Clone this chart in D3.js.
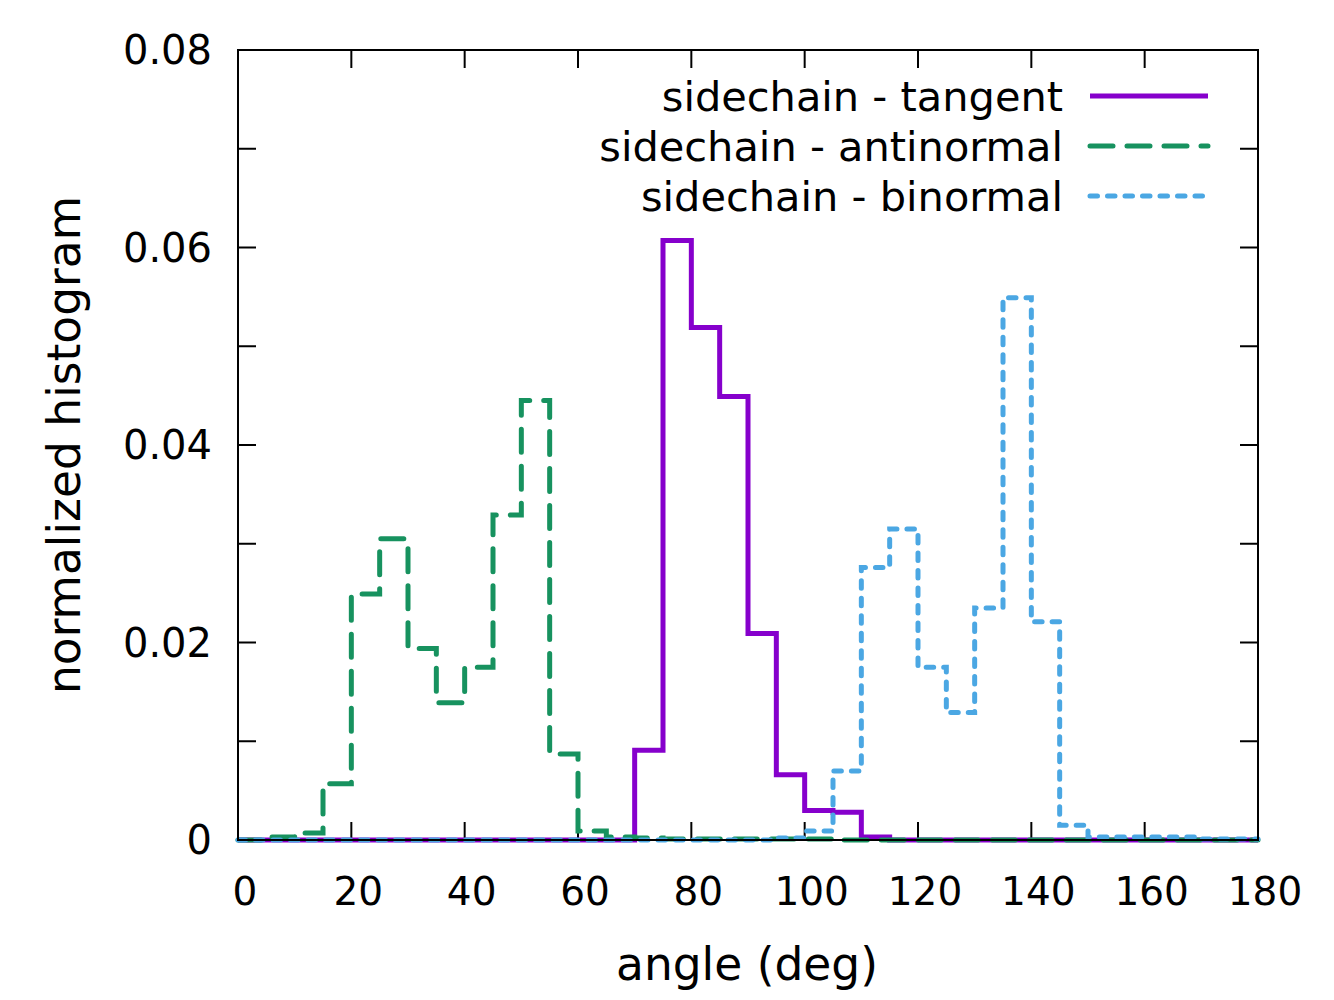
<!DOCTYPE html>
<meta charset="utf-8">

<style>
body { margin: 0; background: #fff; }
text { font-family: "DejaVu Sans", sans-serif; fill: #000; }
.frame { fill: none; stroke: #000; stroke-width: 2px; }
.tick { stroke: #000; stroke-width: 2px; }
.series { fill: none; stroke-width: 5px; stroke-linejoin: miter; }
</style>

<svg width="1334" height="1000"></svg>

<script src="https://d3js.org/d3.v7.min.js"></script>

<script>

// bin start angles (deg), each bin 5 deg wide
var bins = [0, 5, 10, 15, 20, 25, 30, 35, 40, 45, 50, 55, 60, 65, 70, 75, 80, 85,
            90, 95, 100, 105, 110, 115, 120, 125, 130, 135, 140, 145, 150, 155, 160, 165, 170, 175];
var binEnd = 180;

var tangent = [0, 0, 0, 0, 0, 0, 0, 0, 0, 0, 0, 0, 0, 0, 0.0091, 0.0607, 0.0519, 0.0449,
               0.0209, 0.0066, 0.0030, 0.0028, 0.0003, 0, 0, 0, 0, 0, 0, 0, 0, 0, 0, 0, 0, 0];
var antinormal = [0, 0.0003, 0.0007, 0.0057, 0.0249, 0.0305, 0.0194, 0.0139, 0.0175, 0.0329, 0.0445, 0.0087,
                  0.0009, 0.0003, 0.0002, 0.0001, 0.0001, 0.0001, 0.0001, 0.0001, 0.0001, 0, 0, 0,
                  0, 0, 0, 0, 0, 0, 0, 0, 0, 0, 0, 0];
var binormal = [0, 0, 0, 0, 0, 0, 0, 0, 0, 0, 0, 0, 0, 0, 0, 0, 0, 0,
                0, 0.0002, 0.0009, 0.0070, 0.0276, 0.0315, 0.0175, 0.0129, 0.0235, 0.0549, 0.0221, 0.0015, 0.0003, 0.0003,
                0.0003, 0.0003, 0.0001, 0.0001];

var seriesNames = ["sidechain - tangent", "sidechain - antinormal", "sidechain - binormal"];
var seriesColors = ["#8600cc", "#17925f", "#4ba7e3"];
var seriesDash = [null, "23,14", "7.5,10"];
var seriesCap = ["butt", "round", "round"];

var xTicks = [0, 20, 40, 60, 80, 100, 120, 140, 160, 180];
var yTicks = [0, 0.01, 0.02, 0.03, 0.04, 0.05, 0.06, 0.07, 0.08];
var yLabels = {0: "0", 0.02: "0.02", 0.04: "0.04", 0.06: "0.06", 0.08: "0.08"};

var svg = d3.select("svg");
var m = {left: 238, right: 1258, top: 50, bottom: 840};

var x = d3.scaleLinear().domain([0, 180]).range([m.left, m.right]);
var y = d3.scaleLinear().domain([0, 0.08]).range([m.bottom, m.top]);

var tickLen = 18;
var gt = svg.append("g");

// x ticks bottom and top, pointing inward
xTicks.forEach(function(t) {
  gt.append("line").attr("class", "tick")
    .attr("x1", x(t)).attr("x2", x(t)).attr("y1", m.bottom).attr("y2", m.bottom - tickLen);
  gt.append("line").attr("class", "tick")
    .attr("x1", x(t)).attr("x2", x(t)).attr("y1", m.top).attr("y2", m.top + tickLen);
  gt.append("text").attr("x", x(t) + 7).attr("y", m.bottom + 65)
    .attr("text-anchor", "middle").style("font-size", "39px").text(t);
});

yTicks.forEach(function(t) {
  gt.append("line").attr("class", "tick")
    .attr("x1", m.left).attr("x2", m.left + tickLen).attr("y1", y(t)).attr("y2", y(t));
  gt.append("line").attr("class", "tick")
    .attr("x1", m.right).attr("x2", m.right - tickLen).attr("y1", y(t)).attr("y2", y(t));
  if (yLabels[t] !== undefined) {
    gt.append("text").attr("x", m.left - 26).attr("y", y(t) + 14)
      .attr("text-anchor", "end").style("font-size", "40px").text(yLabels[t]);
  }
});

// histogram steps
var line = d3.line()
  .x(function(d) { return x(d[0]); })
  .y(function(d) { return y(d[1]); })
  .curve(d3.curveStepAfter);

function stepPoints(vals) {
  var pts = bins.map(function(b, i) { return [b, vals[i]]; });
  pts.push([binEnd, vals[vals.length - 1]]);
  return pts;
}

var allSeries = [tangent, antinormal, binormal];
allSeries.forEach(function(vals, i) {
  svg.append("path").attr("class", "series")
    .attr("d", line(stepPoints(vals)))
    .attr("stroke", seriesColors[i])
    .attr("stroke-dasharray", seriesDash[i])
    .attr("stroke-linecap", seriesCap[i]);
});

svg.append("rect").attr("class", "frame")
  .attr("x", m.left).attr("y", m.top)
  .attr("width", m.right - m.left).attr("height", m.bottom - m.top);

// legend
var lg = svg.append("g");
seriesNames.forEach(function(name, i) {
  var ly = 96 + i * 50;
  lg.append("text").attr("x", 1063).attr("y", ly + 15)
    .attr("text-anchor", "end").style("font-size", "41.5px").text(name);
  lg.append("line")
    .attr("x1", 1090).attr("x2", 1208).attr("y1", ly).attr("y2", ly)
    .attr("stroke", seriesColors[i]).attr("stroke-width", 5)
    .attr("stroke-dasharray", seriesDash[i])
    .attr("stroke-linecap", seriesCap[i]);
});

// axis titles
svg.append("text").attr("x", 747).attr("y", 980)
  .attr("text-anchor", "middle").style("font-size", "45.5px").text("angle (deg)");
svg.append("text")
  .attr("transform", "translate(80,445) rotate(-90)")
  .attr("text-anchor", "middle").style("font-size", "45.5px").text("normalized histogram");

</script>
